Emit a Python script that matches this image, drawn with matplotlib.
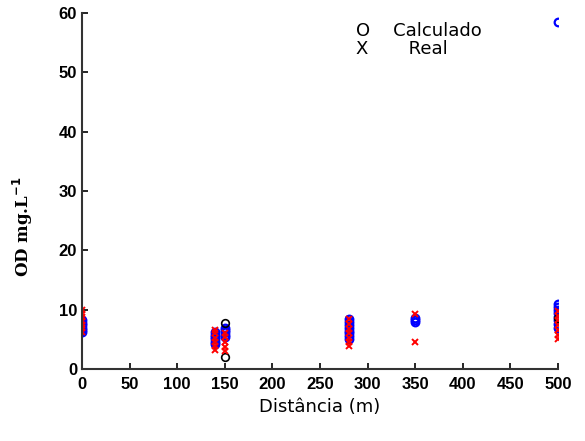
import matplotlib
matplotlib.use("Agg")
import matplotlib.pyplot as plt

# calculated (blue circles)
calc_x = [0, 0, 0, 0, 0, 0, 140, 140, 140, 140, 140, 140, 150, 150, 150, 150, 150,
          280, 280, 280, 280, 280, 280, 280, 280, 350, 350, 350,
          500, 500, 500, 500, 500, 500, 500, 500, 500]
calc_y = [6.2, 6.6, 7.0, 7.4, 7.8, 8.2, 4.2, 4.6, 5.0, 5.4, 5.8, 6.2, 5.4, 5.8, 6.2, 6.6, 7.0,
          5.0, 5.5, 6.0, 6.5, 7.0, 7.5, 8.0, 8.5, 7.9, 8.3, 8.6,
          7.0, 7.6, 8.2, 8.8, 9.4, 10.0, 10.5, 10.9, 58.5]

# real (red x)
real_x = [0, 0, 0, 0, 0, 0, 0, 140, 140, 140, 140, 140, 140, 150, 150, 150, 150, 150,
          280, 280, 280, 280, 280, 280, 280, 350, 350, 500, 500, 500, 500, 500, 500, 500]
real_y = [6.3, 6.9, 7.5, 8.1, 8.7, 9.3, 9.9, 3.2, 3.9, 4.6, 5.3, 6.0, 6.6, 3.0, 3.8, 4.6, 5.4, 6.0,
          3.9, 4.6, 5.3, 6.0, 6.8, 7.6, 8.4, 4.5, 9.3, 5.0, 5.8, 6.6, 7.4, 8.2, 9.0, 9.8]

# black outliers
out_x = [150, 150, 500]
out_y = [2.0, 7.8, 8.6]

fig = plt.figure(figsize=(5.85, 4.41), dpi=100)
ax = fig.add_axes([0.140, 0.163, 0.814, 0.808])

ax.plot(calc_x, calc_y, 'o', mfc="none", mec="blue", markersize=5.5, mew=1.6)
ax.plot(out_x, out_y, 'o', mfc="none", mec="black", markersize=5.5, mew=1.2)
ax.plot(real_x, real_y, 'x', color="red", markersize=4, mew=1.4)

ax.set_xlim(0, 500)
ax.set_ylim(0, 60)
ax.set_xticks(range(0, 501, 50))
ax.set_yticks(range(0, 61, 10))
for s in ["top", "right"]:
    ax.spines[s].set_visible(False)
for s in ["left", "bottom"]:
    ax.spines[s].set_linewidth(1.5)
    ax.spines[s].set_color("#333333")
ax.tick_params(direction="in", length=4, width=1.2, labelsize=12)
for lab in ax.get_xticklabels() + ax.get_yticklabels():
    lab.set_family("Liberation Sans")
    lab.set_fontweight("bold")
ax.tick_params(axis="x", pad=6)

ax.set_xlabel("Distância (m)", fontsize=13, family="DejaVu Sans")
ax.set_ylabel("OD mg.L$^{\\mathbf{-1}}$", fontsize=12, fontweight="bold", family="DejaVu Serif")
ax.yaxis.set_label_coords(-0.098, 0.40)

ax.text(0.575, 0.935, "O    Calculado", transform=ax.transAxes, fontsize=13, family="DejaVu Sans")
ax.text(0.575, 0.885, "X       Real", transform=ax.transAxes, fontsize=13, family="DejaVu Sans")

fig.savefig("out.png", dpi=100)
